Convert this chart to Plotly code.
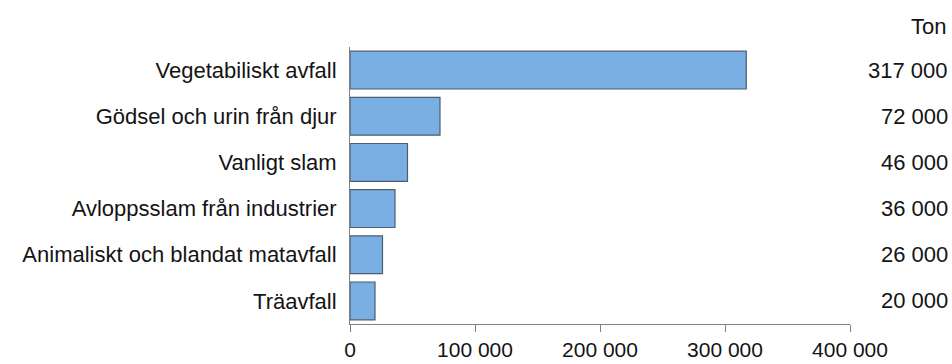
import plotly.graph_objects as go

# Material categories and tonnage
categories = [
    "Vegetabiliskt avfall",
    "Gödsel och urin från djur",
    "Vanligt slam",
    "Avloppsslam från industrier",
    "Animaliskt och blandat matavfall",
    "Träavfall",
]
tons = [317000, 72000, 46000, 36000, 26000, 20000]
x_ticks = [0, 100000, 200000, 300000, 400000]
unit_label = "Ton"

FONT = "Liberation Sans, Arial, sans-serif"
TEXT = "#141414"
SIZE = 22


def fmt(v):
    return f"{v:,}".replace(",", " ")


fig = go.Figure(
    go.Bar(
        x=tons,
        y=categories,
        orientation="h",
        marker=dict(color="#79afe2", line=dict(color="#4d5e73", width=1.2)),
        hoverinfo="skip",
    )
)

# Value column on the right side
for cat, v in zip(categories, tons):
    fig.add_annotation(
        x=1.0, xref="paper", xanchor="right", xshift=100,
        y=cat, yref="y",
        text=fmt(v), showarrow=False,
        font=dict(family=FONT, size=SIZE, color=TEXT),
    )

fig.add_annotation(
    x=1.0, xref="paper", xanchor="right", xshift=98,
    y=1.0, yref="paper", yanchor="middle", yshift=21,
    text=unit_label, showarrow=False,
    font=dict(family=FONT, size=SIZE, color=TEXT),
)

fig.update_layout(
    width=952,
    height=364,
    margin=dict(l=350, r=102, t=47, b=40),
    paper_bgcolor="white",
    plot_bgcolor="white",
    bargap=0.18,
    showlegend=False,
    font=dict(family=FONT, size=SIZE, color=TEXT),
    xaxis=dict(
        range=[0, 400000],
        tickvals=x_ticks,
        ticktext=[fmt(t) for t in x_ticks],
        showgrid=False,
        zeroline=False,
        showline=True,
        linecolor="#808080",
        linewidth=1,
        ticks="outside",
        ticklen=7,
        tickcolor="#808080",
        ticklabelstandoff=0,
        automargin=False,
        tickfont=dict(family=FONT, size=21, color=TEXT),
    ),
    yaxis=dict(
        categoryorder="array",
        categoryarray=categories,
        autorange="reversed",
        showgrid=False,
        zeroline=False,
        showline=True,
        linecolor="#808080",
        linewidth=1,
        ticks="",
        ticklabelstandoff=8,
        automargin=False,
        tickfont=dict(family=FONT, size=SIZE, color=TEXT),
    ),
)

fig.write_html("out.html")
